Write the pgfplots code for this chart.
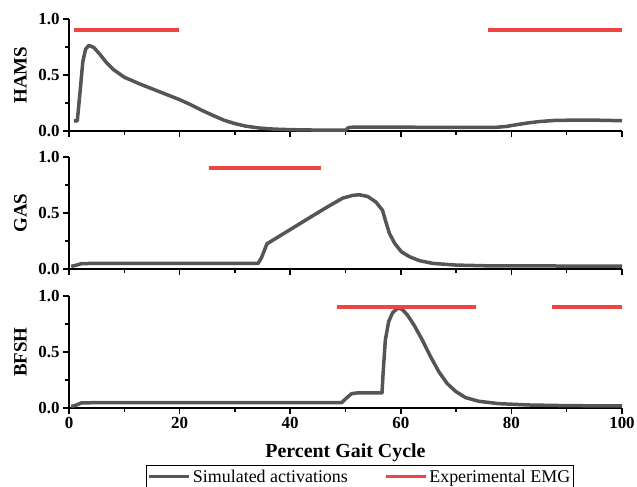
\documentclass[border=0pt]{standalone}
\usepackage{pgfplots}
\pgfplotsset{compat=1.18}
\usepackage{fontspec}
\setmainfont{Liberation Serif}
\definecolor{simgray}{RGB}{85,85,85}
\definecolor{emgred}{RGB}{240,68,68}
\begin{document}
\begin{tikzpicture}
\pgfplotsset{
  panel/.style={
    width=553bp, height=112bp, scale only axis,
    xmin=0, xmax=100, ymin=0, ymax=1,
    clip=false,
    axis lines*=left,
    axis line style={line width=1.5bp,-,black},
    tick align=outside,
    xtick={0,20,...,100}, minor xtick={10,30,...,90},
    ytick={0,0.5,1}, minor ytick={0.25,0.75},
    major tick length=6bp, minor tick length=3.5bp,
    every tick/.style={black,line width=1.5bp},
    /pgf/number format/assume math mode=true,
    tick label style={font=\fontsize{17}{17}\selectfont\bfseries},
    yticklabel style={/pgf/number format/.cd,fixed,fixed zerofill,precision=1},
    xticklabel style={/pgf/number format/.cd,fixed,precision=0},
    every axis y label/.style={at={(axis description cs:-0.088,0.5)},rotate=90,anchor=center,font=\fontsize{19}{19}\selectfont\bfseries},
  },
  sim/.style={simgray, line width=3.5bp, line join=round},
  emg/.style={emgred, line width=3.5bp},
}
% HAMS
\begin{axis}[panel, at={(0,0)}, anchor=south west, xticklabels={}, ylabel={HAMS}]
\addplot[sim] coordinates {(0.9,0.09) (1.5,0.09) (2.0,0.35) (2.5,0.62) (3.0,0.73) (3.6,0.765) (4.5,0.745) (5.5,0.69) (6.7,0.615) (8,0.55) (10,0.48) (12.8,0.42) (16.4,0.35) (20,0.28) (22,0.235) (24,0.185) (26,0.14) (28,0.097) (30,0.066) (32,0.043) (34.5,0.026) (37,0.017) (40,0.012) (45,0.008) (50,0.007) (50.5,0.03) (51.5,0.035) (60,0.034) (70,0.032) (77,0.032) (79,0.04) (81,0.057) (83,0.072) (85,0.084) (88,0.095) (94,0.098) (100,0.092)};
\addplot[emg] coordinates {(0.9,0.9) (19.9,0.9)};
\addplot[emg] coordinates {(75.8,0.9) (100,0.9)};
\end{axis}
% GAS
\begin{axis}[panel, at={(0,-138bp)}, anchor=south west, xticklabels={}, ylabel={GAS}]
\addplot[sim] coordinates {(0.4,0.024) (1,0.03) (2.2,0.047) (4,0.05) (34.2,0.05) (34.8,0.1) (35.8,0.225) (40,0.352) (43,0.443) (45,0.503) (47.1,0.565) (49.5,0.633) (51.3,0.657) (52.5,0.663) (54.0,0.648) (55.5,0.598) (56.7,0.524) (57.3,0.42) (57.95,0.317) (58.9,0.228) (60.1,0.154) (61.6,0.109) (63.4,0.074) (65.8,0.05) (70,0.035) (76,0.028) (85,0.027) (100,0.026)};
\addplot[emg] coordinates {(25.3,0.9) (45.6,0.9)};
\end{axis}
% BFSH
\begin{axis}[panel, at={(0,-277bp)}, anchor=south west, ylabel={BFSH},
  xlabel={Percent Gait Cycle},
  every axis x label/.style={at={(axis description cs:0.5,-0.40)},anchor=center,font=\fontsize{20}{20}\selectfont\bfseries},
  legend columns=2,
  legend style={at={(axis description cs:0.526,-0.51)}, anchor=north, draw=black, line width=1.2bp,
    font=\fontsize{18}{18}\selectfont, inner xsep=1bp, inner ysep=2bp,
    /tikz/every even column/.append style={column sep=34bp}},
  legend image code/.code={\draw[#1] (0bp,0bp) -- (40bp,0bp);},
]
\addplot[sim] coordinates {(0.4,0.015) (1,0.02) (2.2,0.045) (4,0.047) (49.3,0.047) (50.2,0.09) (51.1,0.128) (52,0.134) (56.6,0.134) (56.8,0.31) (57.2,0.606) (57.8,0.77) (58.5,0.85) (59.4,0.89) (60.2,0.884) (61.2,0.83) (62.4,0.74) (63.9,0.606) (65.4,0.457) (66.9,0.322) (68.4,0.218) (69.9,0.149) (71.7,0.093) (74.1,0.06) (77.7,0.039) (83.1,0.027) (90,0.021) (100,0.018)};
\addlegendentry{Simulated activations}
\addplot[emg] coordinates {(48.5,0.9) (73.6,0.9)};
\addlegendentry{Experimental EMG}
\addplot[emg, forget plot] coordinates {(87.3,0.9) (100,0.9)};
\end{axis}
\pgfresetboundingbox
\useasboundingbox (-69bp,131bp) rectangle (568bp,-356bp);
\end{tikzpicture}
\end{document}
